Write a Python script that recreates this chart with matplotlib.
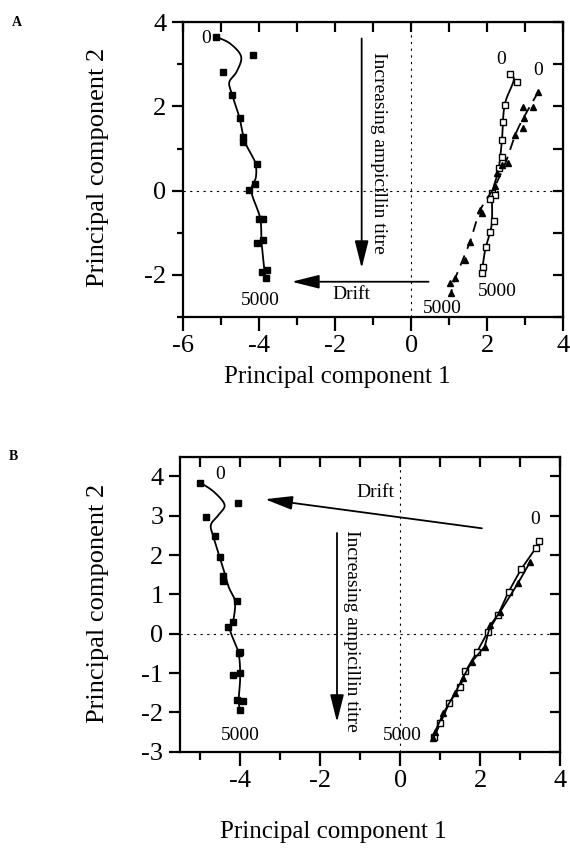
import numpy as np
import matplotlib.pyplot as plt
from matplotlib.ticker import MultipleLocator, NullFormatter

plt.rcParams['font.family'] = ['Liberation Serif', 'DejaVu Serif']
plt.rcParams['axes.unicode_minus'] = False

# ---------------- Panel A ----------------
# ampicillin series (filled squares)
a_amp_x = [-5.13, -4.15, -4.96, -4.70, -4.50, -4.41, -4.41, -4.06, -4.10, -4.26,
           -3.99, -3.90, -4.06, -3.89, -3.93, -3.78, -3.82]
a_amp_y = [3.65, 3.23, 2.81, 2.28, 1.73, 1.28, 1.16, 0.63, 0.16, 0.02,
           -0.68, -0.68, -1.25, -1.17, -1.92, -1.88, -2.08]
a_amp_fit_x = [-5.13, -4.76, -4.47, -4.59, -4.78, -4.72, -4.52, -4.37, -4.11, -4.08,
               -4.20, -3.97, -3.93, -3.84]
a_amp_fit_y = [3.65, 3.49, 3.18, 2.82, 2.58, 2.31, 1.75, 1.16, 0.69, 0.33,
               -0.02, -0.65, -1.25, -2.04]

# drift series 1 (open squares)
a_d1_x = [2.59, 2.78, 2.46, 2.43, 2.39, 2.39, 2.32, 2.12, 2.21, 2.08, 2.17, 2.08,
          1.97, 1.89, 1.86]
a_d1_y = [2.77, 2.58, 2.03, 1.64, 1.20, 0.81, 0.53, -0.05, -0.10, -0.20, -0.73,
          -0.97, -1.33, -1.80, -1.96]
a_d1_fit_x = [2.59, 2.70, 2.46, 2.39, 2.30, 2.14, 2.12, 1.95, 1.86]
a_d1_fit_y = [2.77, 2.62, 2.03, 1.20, 0.50, -0.05, -0.80, -1.40, -1.96]

# drift series 2 (filled triangles)
a_d2_x = [3.35, 2.94, 3.20, 2.96, 2.94, 2.74, 2.56, 2.39, 2.26, 2.21, 1.82, 1.86,
          1.55, 1.42, 1.16, 1.03, 1.05]
a_d2_y = [2.35, 1.99, 1.99, 1.72, 1.48, 1.32, 0.65, 0.61, 0.41, 0.11, -0.46, -0.54,
          -1.21, -1.64, -2.08, -2.19, -2.43]
a_d2_fit_x = [3.35, 2.95, 2.74, 2.50, 2.20, 1.82, 1.55, 1.16, 1.05]
a_d2_fit_y = [2.35, 1.72, 1.32, 0.70, 0.10, -0.46, -1.21, -2.08, -2.43]

# ---------------- Panel B ----------------
b_amp_x = [-5.00, -4.06, -4.86, -4.64, -4.50, -4.42, -4.42, -4.09, -4.17, -4.31,
           -4.00, -4.04, -4.17, -4.00, -4.08, -3.94, -4.00]
b_amp_y = [3.84, 3.32, 2.98, 2.49, 1.95, 1.47, 1.33, 0.82, 0.31, 0.18,
           -0.46, -0.50, -1.05, -1.00, -1.68, -1.70, -1.94]
b_amp_fit_x = [-5.00, -4.67, -4.39, -4.54, -4.73, -4.67, -4.46, -4.29, -4.13, -4.17,
               -4.25, -4.04, -4.00, -4.04, -4.00]
b_amp_fit_y = [3.84, 3.62, 3.28, 3.02, 2.77, 2.47, 1.79, 1.20, 0.82, 0.34,
               0.09, -0.50, -1.13, -1.68, -1.94]

b_d1_x = [3.47, 3.39, 3.02, 2.71, 2.44, 2.19, 1.92, 1.63, 1.50, 1.23, 1.00, 0.85]
b_d1_y = [2.36, 2.18, 1.64, 1.07, 0.47, 0.05, -0.46, -0.96, -1.35, -1.75, -2.28, -2.62]
b_d2_x = [3.25, 2.94, 2.50, 2.25, 2.11, 1.79, 1.56, 1.37, 1.08, 0.87, 0.83]
b_d2_y = [1.83, 1.28, 0.56, 0.22, -0.33, -0.71, -1.13, -1.51, -2.02, -2.49, -2.66]


def catmull(xs, ys, n=24):
    p = np.column_stack([xs, ys]).astype(float)
    p = np.vstack([p[0], p, p[-1]])
    out = []
    t = np.linspace(0, 1, n, endpoint=False)[:, None]
    for i in range(1, len(p) - 2):
        p0, p1, p2, p3 = p[i - 1], p[i], p[i + 1], p[i + 2]
        seg = 0.5 * ((2 * p1) + (-p0 + p2) * t + (2 * p0 - 5 * p1 + 4 * p2 - p3) * t ** 2
                     + (-p0 + 3 * p1 - 3 * p2 + p3) * t ** 3)
        out.append(seg)
    out.append(p[-2][None, :])
    out = np.vstack(out)
    return out[:, 0], out[:, 1]


def style_axes(ax, xlim, ylim, ymajor, yminor):
    ax.set_xlim(*xlim)
    ax.set_ylim(*ylim)
    for s in ax.spines.values():
        s.set_linewidth(1.6)
    ax.xaxis.set_major_locator(MultipleLocator(2))
    ax.xaxis.set_minor_locator(MultipleLocator(1))
    ax.yaxis.set_major_locator(MultipleLocator(ymajor))
    if yminor:
        ax.yaxis.set_minor_locator(MultipleLocator(yminor))
    ax.tick_params(axis='both', which='both', direction='out', top=False, right=False,
                   width=1.6, labelsize=19)
    ax.tick_params(axis='x', which='major', length=10, pad=3)
    ax.tick_params(axis='x', which='minor', length=6)
    ax.tick_params(axis='y', which='major', length=8, pad=4)
    ax.tick_params(axis='y', which='minor', length=4.5)
    top = ax.secondary_xaxis('top')
    top.xaxis.set_major_locator(MultipleLocator(1))
    top.tick_params(direction='in', length=7, width=1.6, labeltop=False)
    top.xaxis.set_major_formatter(NullFormatter())
    right = ax.secondary_yaxis('right')
    right.yaxis.set_major_locator(MultipleLocator(1))
    right.tick_params(direction='in', length=7, width=1.6, labelright=False)
    right.yaxis.set_major_formatter(NullFormatter())
    ax.axhline(0, color='k', lw=0.8, ls=(0, (2, 4)), zorder=0)
    ax.axvline(0, color='k', lw=0.8, ls=(0, (2, 4)), zorder=0)


def arrow(ax, start, tip):
    ax.annotate('', xy=tip, xytext=start,
                arrowprops=dict(arrowstyle='-|>,head_length=1.2,head_width=0.3',
                                color='k', lw=1.3, mutation_scale=14, shrinkA=0, shrinkB=0))


fig = plt.figure(figsize=(5.7, 8.48), dpi=100)
axA = fig.add_axes([0.321, 0.626, 0.667, 0.348])
axB = fig.add_axes([0.316, 0.1136, 0.667, 0.3478])

ann = dict(fontsize=14, color='k')

# ---- A ----
style_axes(axA, (-6, 4), (-3, 4), 2, 1)
x, y = catmull(a_amp_fit_x, a_amp_fit_y)
axA.plot(x, y, color='k', lw=1.3)
axA.plot(a_amp_x, a_amp_y, 's', color='k', ms=4.5, ls='none')
x, y = catmull(a_d1_fit_x, a_d1_fit_y)
axA.plot(x, y, color='k', lw=1.3)
axA.plot(a_d1_x, a_d1_y, 's', mfc='white', mec='k', mew=1.0, ms=4.5, ls='none')
x, y = catmull(a_d2_fit_x, a_d2_fit_y)
axA.plot(x, y, color='k', lw=1.3, ls=(0, (6, 4)))
axA.plot(a_d2_x, a_d2_y, '^', color='k', ms=5, ls='none')

axA.text(-5.4, 3.6, '0', ha='center', va='center', **ann)
axA.text(2.38, 3.1, '0', ha='center', va='center', **ann)
axA.text(3.35, 2.86, '0', ha='center', va='center', **ann)
axA.text(-3.97, -2.61, '5000', ha='center', va='center', **ann)
axA.text(2.26, -2.39, '5000', ha='center', va='center', **ann)
axA.text(0.81, -2.79, '5000', ha='center', va='center', **ann)
arrow(axA, (-1.30, 3.61), (-1.30, -1.84))
axA.text(-0.87, 0.89, 'Increasing ampicillin titre', rotation=-90,
         ha='center', va='center', **ann)
arrow(axA, (0.46, -2.16), (-3.14, -2.16))
axA.text(-1.56, -2.47, 'Drift', ha='center', va='center', **ann)

# ---- B ----
style_axes(axB, (-5.5, 4), (-3, 4.5), 1, None)
x, y = catmull(b_amp_fit_x, b_amp_fit_y)
axB.plot(x, y, color='k', lw=1.3)
axB.plot(b_amp_x, b_amp_y, 's', color='k', ms=4.5, ls='none')
axB.plot(b_d1_x, b_d1_y, color='k', lw=1.3)
axB.plot(b_d1_x, b_d1_y, 's', mfc='white', mec='k', mew=1.0, ms=4.5, ls='none')
axB.plot(b_d2_x, b_d2_y, color='k', lw=1.3)
axB.plot(b_d2_x, b_d2_y, '^', color='k', ms=5, ls='none')

axB.text(-4.5, 4.04, '0', ha='center', va='center', **ann)
axB.text(3.37, 2.90, '0', ha='center', va='center', **ann)
axB.text(-4.0, -2.58, '5000', ha='center', va='center', **ann)
axB.text(0.04, -2.58, '5000', ha='center', va='center', **ann)
arrow(axB, (2.04, 2.68), (-3.38, 3.42))
axB.text(-0.63, 3.58, 'Drift', ha='center', va='center', **ann)
arrow(axB, (-1.58, 2.56), (-1.58, -2.25))
axB.text(-1.21, 0.07, 'Increasing ampicillin titre', rotation=-90,
         ha='center', va='center', **ann)

# axis titles and panel letters
fig.text(337 / 570, 1 - 377 / 848, 'Principal component 1', fontsize=18,
         ha='center', va='center')
fig.text(98 / 570, 1 - 167 / 848, 'Principal component 2', fontsize=19,
         ha='center', va='center', rotation=90)
fig.text(333 / 570, 1 - 832 / 848, 'Principal component 1', fontsize=18,
         ha='center', va='center')
fig.text(98 / 570, 1 - 603 / 848, 'Principal component 2', fontsize=19,
         ha='center', va='center', rotation=90)
fig.text(17 / 570, 1 - 23 / 848, 'A', fontsize=10, fontweight='bold',
         ha='center', va='center')
fig.text(13 / 570, 1 - 457 / 848, 'B', fontsize=10, fontweight='bold',
         ha='center', va='center')

fig.savefig('out.png', dpi=100)
